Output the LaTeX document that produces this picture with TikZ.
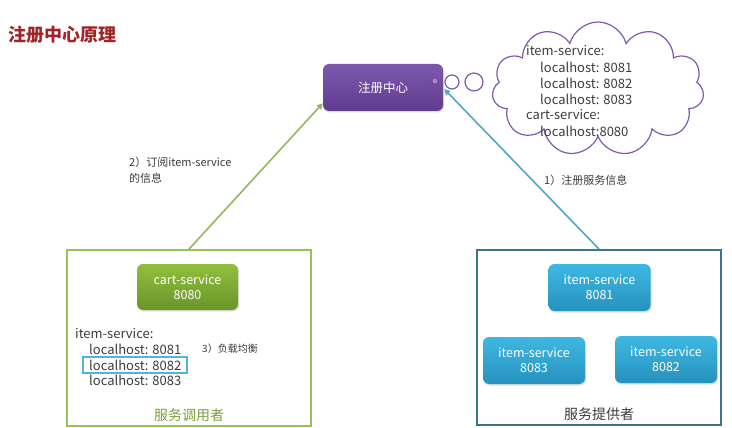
\documentclass[tikz,border=0pt]{standalone}
\usepackage{fontspec}
\setmainfont{Noto Sans CJK SC}
\usetikzlibrary{shapes.symbols,shadows,arrows.meta,calc}
\definecolor{titlered}{RGB}{160,36,40}
\definecolor{regtop}{RGB}{126,88,172}
\definecolor{regbot}{RGB}{96,60,144}
\definecolor{carttop}{RGB}{146,190,62}
\definecolor{cartbot}{RGB}{104,150,40}
\definecolor{itemtop}{RGB}{62,184,226}
\definecolor{itembot}{RGB}{38,146,190}
\definecolor{grpgreen}{RGB}{150,194,90}
\definecolor{grpteal}{RGB}{58,118,136}
\definecolor{arrgreen}{RGB}{150,182,96}
\definecolor{arrblue}{RGB}{82,168,196}
\definecolor{cloudpurple}{RGB}{128,92,168}
\definecolor{hlblue}{RGB}{80,180,220}
\definecolor{txtgray}{RGB}{60,60,60}
\definecolor{consgreen}{RGB}{122,160,62}
\tikzset{
  boxshadow/.style={drop shadow={opacity=0.25,shadow xshift=1pt,shadow yshift=-1.5pt}},
  svcbox/.style={rounded corners=6pt, minimum width=102pt, minimum height=47pt,
    align=center, text=white, font=\fontsize{12.5}{15}\selectfont, boxshadow},
  regbox/.style={svcbox, top color=regtop, bottom color=regbot, minimum width=120pt},
  cartbox/.style={svcbox, top color=carttop, bottom color=cartbot, minimum width=101pt, minimum height=46pt},
  itembox/.style={svcbox, top color=itemtop, bottom color=itembot},
  grpbox/.style={draw, line width=1.8pt, minimum width=244pt, minimum height=176pt},
  lbl/.style={text=txtgray, font=\fontsize{11}{16}\selectfont, inner sep=0pt, align=left},
  listtxt/.style={text=txtgray, font=\fontsize{13}{15}\selectfont, inner sep=0pt, anchor=west},
  conn/.style={line width=1.6pt, -{Triangle[length=6pt,width=6pt]}},
}
\begin{document}
\begin{tikzpicture}[x=1pt,y=-1pt]
\useasboundingbox (0,0) rectangle (732,428);
\fill[white] (0,0) rectangle (732,428);

% title
\node[anchor=west, inner sep=0pt, text=titlered, font=\fontsize{18}{20}\selectfont\bfseries] (title) at (8,35) {注册中心原理};

% groups
\node[grpbox, draw=grpgreen] (cons) at (189,338) {};
\node[grpbox, draw=grpteal, minimum height=175pt] (prov) at (599,337.5) {};

% registry
\node[regbox] (reg) at (383,87.5) {注册中心};
\node[circle, fill=regtop!70!white, draw=regbot, line width=0.5pt, minimum size=6pt, inner sep=0pt] (regdot) at (435,81) {};

% cloud and thought bubbles
\node[cloud, cloud puffs=11, cloud ignores aspect, draw=cloudpurple, line width=1.2pt,
  minimum width=212pt, minimum height=134pt, fill=white] (cloud) at (598,89) {};
\node[circle, draw=cloudpurple, line width=1.2pt, minimum size=14pt, inner sep=0pt] (b1) at (452,82) {};
\node[circle, draw=cloudpurple, line width=1.2pt, minimum size=18pt, inner sep=0pt] (b2) at (474,82) {};
\node[listtxt] (c1) at (526,51) {item-service:};
\node[listtxt] (c2) at (540,67) {localhost: 8081};
\node[listtxt] (c3) at (540,83) {localhost: 8082};
\node[listtxt] (c4) at (540,99) {localhost: 8083};
\node[listtxt] (c5) at (526,115) {cart-service:};
\node[listtxt] (c6) at (540,131) {localhost:8080};

% services
\node[cartbox] (cart) at (187.5,287) {cart-service\\8080};
\node[itembox] (i1) at (599.5,287.5) {item-service\\8081};
\node[itembox] (i3) at (534,360.5) {item-service\\8083};
\node[itembox] (i2) at (666,359.5) {item-service\\8082};

% consumer list
\node[listtxt] (l0) at (75,334) {item-service:};
\node[listtxt] (l1) at (89,349) {localhost: 8081};
\node[listtxt] (l2) at (89,365) {localhost: 8082};
\node[listtxt] (l3) at (89,380.5) {localhost: 8083};
\draw[hlblue, line width=1.2pt] (83,357) rectangle (187,373);
\node[lbl, anchor=west, font=\fontsize{10}{12}\selectfont] (lb) at (202,349) {3）负载均衡};

% group captions
\node[inner sep=0pt, text=consgreen, font=\fontsize{14}{16}\selectfont] (consl) at (189,415) {服务调用者};
\node[inner sep=0pt, text=txtgray, font=\fontsize{14}{16}\selectfont] (provl) at (599,414) {服务提供者};

% connectors
\draw[conn, draw=arrgreen, fill=arrgreen] (cons.north) -- ($(reg.south west)+(0,-8)$);
\draw[conn, draw=arrblue, fill=arrblue] (prov.north) -- ($(reg.east)+(1,1.5)$);

% connector labels
\node[lbl, anchor=north west] (sub) at (129,157) {2）订阅item-service\\的信息};
\node[lbl, anchor=west] (regl) at (544,180) {1）注册服务信息};
\end{tikzpicture}
\end{document}
